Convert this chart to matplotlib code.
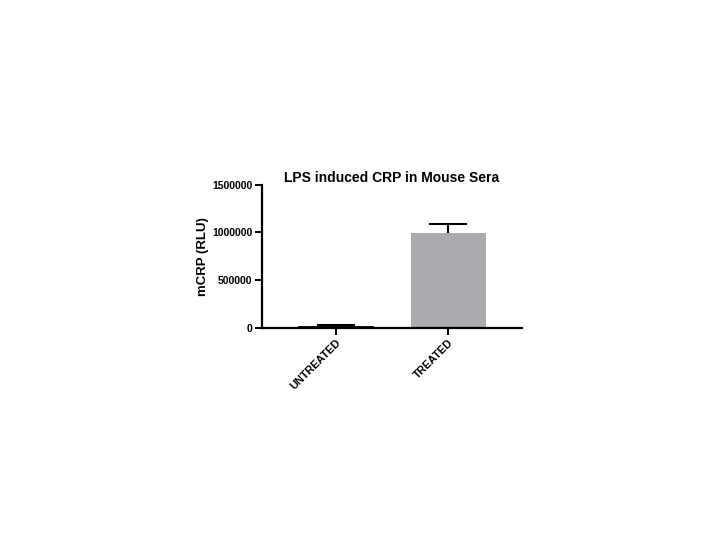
import matplotlib
matplotlib.use("Agg")
import matplotlib.pyplot as plt

plt.rcParams['font.family'] = ['Liberation Sans', 'DejaVu Sans']

groups = ["UNTREATED", "TREATED"]
means = [20000, 995000]
sem = [10000, 90000]
bar_colors = ["#111111", "#ababaf"]

fig = plt.figure(figsize=(7.2, 5.4), dpi=100)
ax = fig.add_axes([0.364, 0.393, 0.361, 0.265])

x = list(range(len(groups)))
ax.bar(x, means, width=0.67, color=bar_colors, zorder=2)
# upper error only (Prism style)
_, caps, _ = ax.errorbar(x, means, yerr=[[0] * len(sem), sem], fmt='none', ecolor='black',
                         elinewidth=1.5, capsize=14, capthick=1.5, zorder=3)
caps[0].set_visible(False)

ax.set_xlim(-0.66, 1.66)
ax.set_ylim(0, 1500000)
ax.set_yticks([0, 500000, 1000000, 1500000])
ax.set_yticklabels(["0", "500000", "1000000", "1500000"], fontweight='bold', fontsize=7.5)
ax.set_xticks(x)
ax.set_xticklabels(groups, rotation=45, ha='right', rotation_mode='anchor',
                   fontweight='bold', fontsize=7.8)

for side in ['top', 'right']:
    ax.spines[side].set_visible(False)
for side in ['left', 'bottom']:
    ax.spines[side].set_linewidth(1.6)
ax.tick_params(axis='both', direction='out', length=5, width=1.4, pad=2)

ax.set_ylabel("mCRP (RLU)", fontweight='bold', fontsize=9.5, labelpad=2)
ax.set_title("LPS induced CRP in Mouse Sera", fontweight='bold', fontsize=10, pad=1)

fig.savefig("out.png", dpi=100)
